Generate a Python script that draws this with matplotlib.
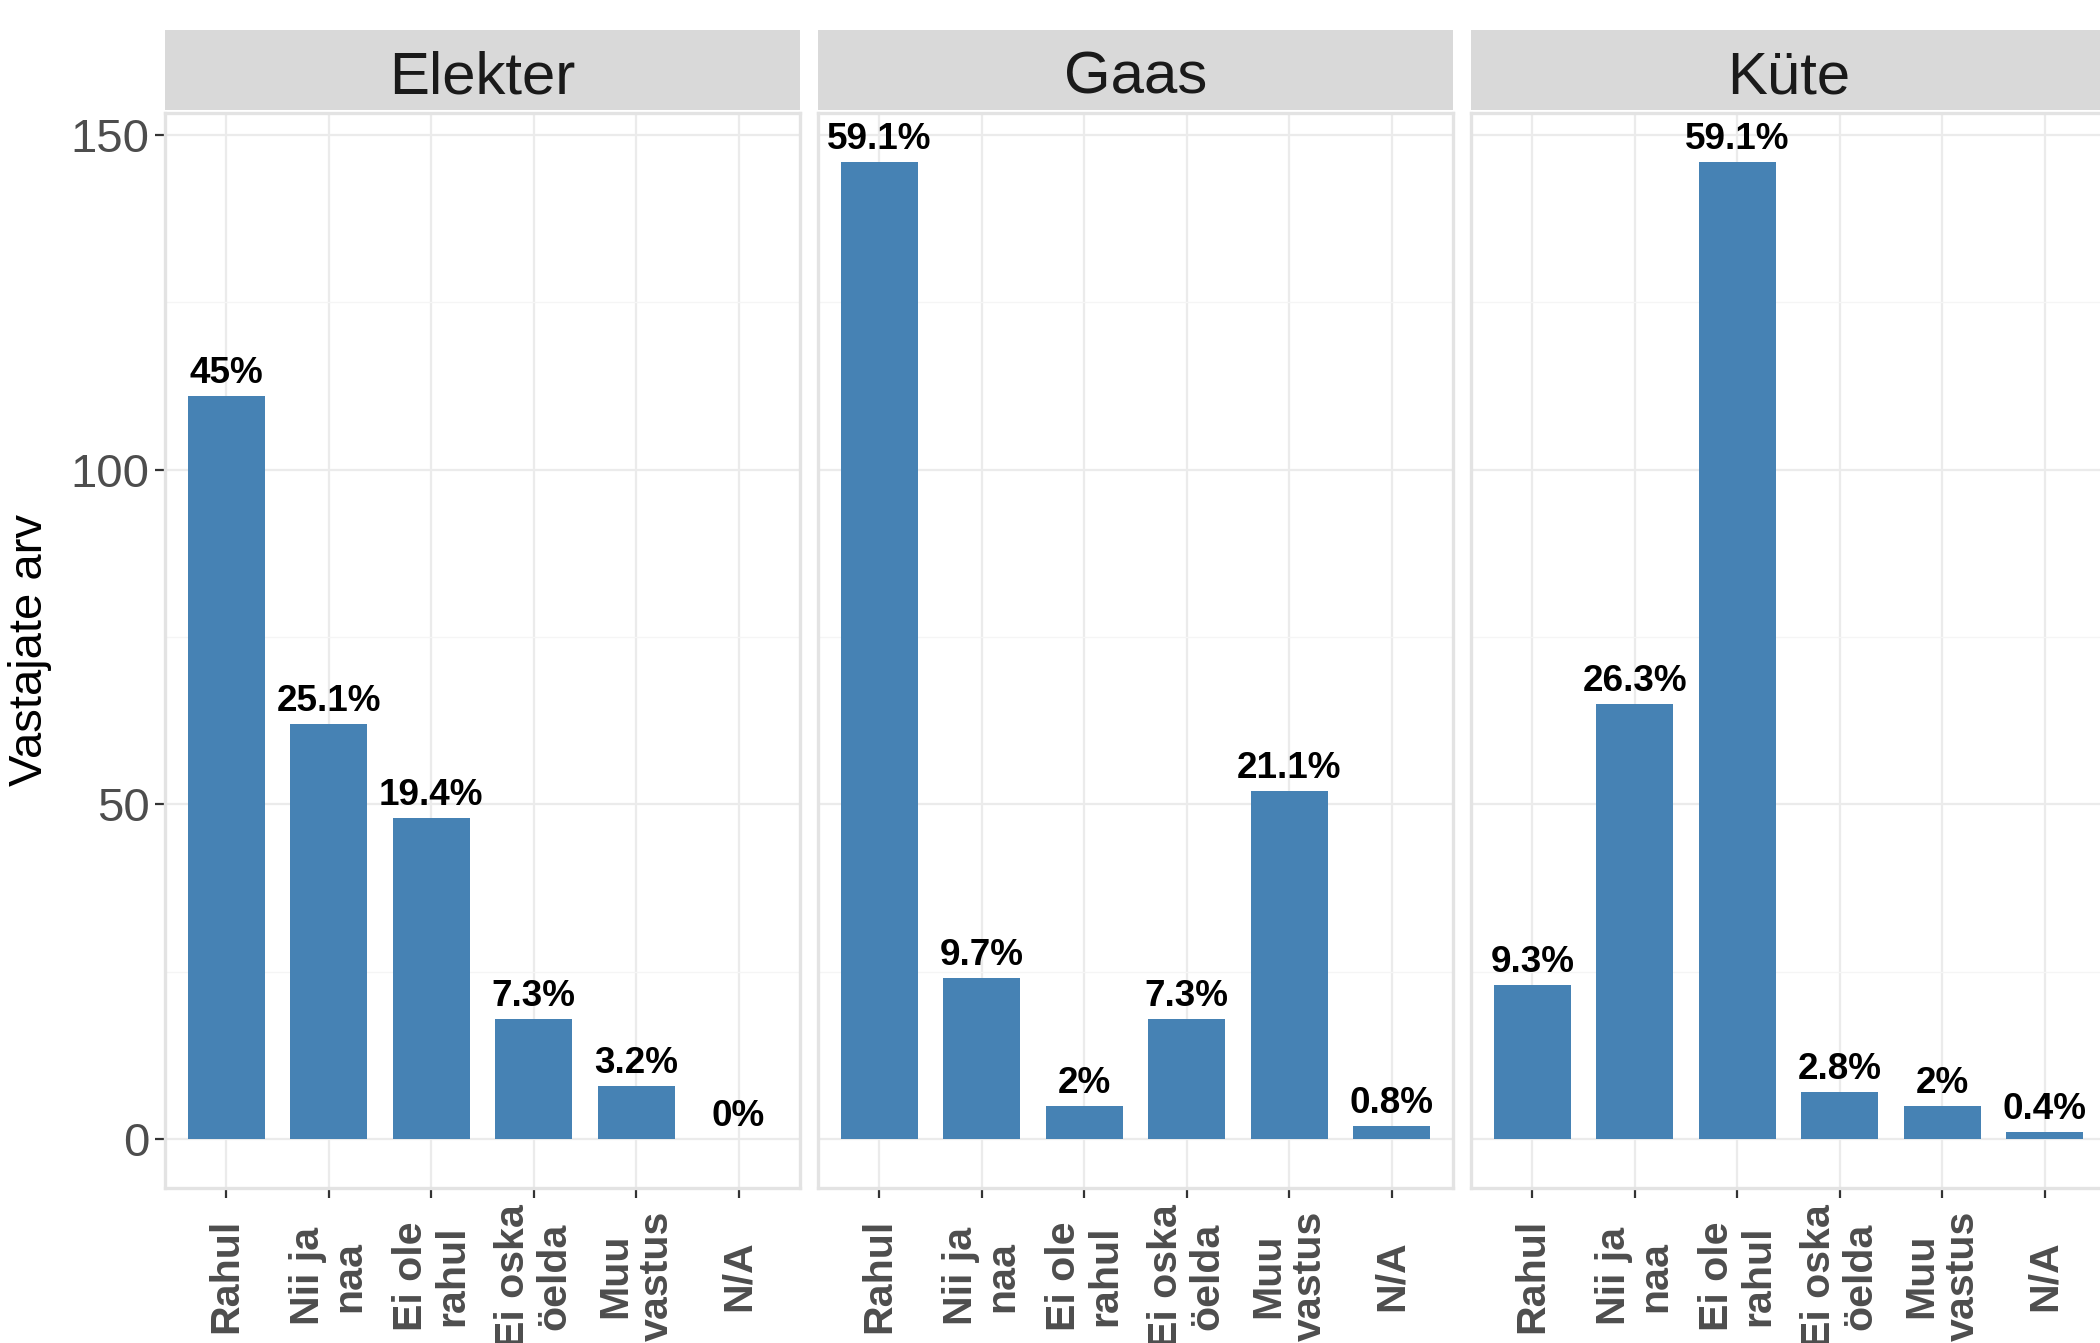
from matplotlib import pyplot as plt
import numpy as np

# Data
facets = ['Elekter', 'Gaas', 'Küte']
categories = ['Rahul', 'Nii ja\nnaa', 'Ei ole\nrahul', 'Ei oska\nöelda', 'Muu\nvastus', 'N/A']
elekter_counts = [111, 62, 48, 18, 8, 0]
gaas_counts = [146, 24, 5, 18, 52, 2]
kute_counts = [23, 65, 146, 7, 5, 1]
elekter_pct = ['45%', '25.1%', '19.4%', '7.3%', '3.2%', '0%']
gaas_pct = ['59.1%', '9.7%', '2%', '7.3%', '21.1%', '0.8%']
kute_pct = ['9.3%', '26.3%', '59.1%', '2.8%', '2%', '0.4%']

counts = [elekter_counts, gaas_counts, kute_counts]
pcts = [elekter_pct, gaas_pct, kute_pct]

plt.rcParams['font.family'] = ['Liberation Sans', 'DejaVu Sans']

W, H = 2100, 1343
fig = plt.figure(figsize=(10.5, 6.715), dpi=200)

panel_lefts = [165, 818, 1471]
panel_w = 635
panel_top, panel_bot = 113, 1188
strip_top, strip_bot = 30, 110

bar_color = '#4682B4'
x = np.arange(1, len(categories) + 1)

for i, facet in enumerate(facets):
    left = panel_lefts[i]
    ax = fig.add_axes([left / W, 1 - panel_bot / H, panel_w / W, (panel_bot - panel_top) / H])
    ax.set_facecolor('white')
    ax.set_xlim(0.4, 6.6)
    ax.set_ylim(-7.3, 153.3)

    # grid
    ax.set_yticks([0, 50, 100, 150])
    ax.set_yticks([25, 75, 125], minor=True)
    ax.set_xticks(x)
    ax.grid(which='major', color='#EBEBEB', linewidth=0.8)
    ax.grid(which='minor', axis='y', color='#F5F5F5', linewidth=0.5)
    ax.set_axisbelow(True)

    for sp in ax.spines.values():
        sp.set_color('#E3E3E3')
        sp.set_linewidth(1.2)

    ax.bar(x, counts[i], width=0.75, color=bar_color, zorder=2)
    for xi, val, lab in zip(x, counts[i], pcts[i]):
        ax.annotate(lab, (xi, val), xytext=(0, 4.7), textcoords='offset points',
                    ha='center', va='baseline', fontsize=13.3, fontweight='bold',
                    color='black')

    ax.tick_params(axis='both', which='major', color='#333333', length=3.6, width=0.8)
    ax.tick_params(axis='y', which='minor', length=0)
    ax.set_xticklabels([''] * len(categories))
    if i == 0:
        ax.set_yticklabels(['0', '50', '100', '150'], fontsize=17, color='#4D4D4D')
        ax.tick_params(axis='y', pad=2)
    else:
        ax.tick_params(axis='y', which='both', length=0, labelleft=False)

    # rotated category labels
    for xi, cat in zip(x, categories):
        ax.text(xi, -(1276 - panel_bot) / (panel_bot - panel_top), cat,
                transform=ax.get_xaxis_transform(), rotation=90,
                ha='center', va='center', multialignment='center',
                fontsize=14.8, fontweight='bold', color='#4D4D4D',
                linespacing=1.1, clip_on=False)

    # facet strip
    sax = fig.add_axes([left / W, 1 - strip_bot / H, panel_w / W, (strip_bot - strip_top) / H])
    sax.set_facecolor('#D9D9D9')
    sax.set_xticks([])
    sax.set_yticks([])
    for sp in sax.spines.values():
        sp.set_visible(False)
    sax.text(0.5, 0.21, facet, ha='center', va='baseline', fontsize=21.6,
             color='#1A1A1A', transform=sax.transAxes)

fig.text(30 / W, 1 - 650 / H, 'Vastajate arv', rotation=90, ha='center', va='center',
         fontsize=17, color='black')

fig.savefig('out.png', dpi=200, facecolor='white')
